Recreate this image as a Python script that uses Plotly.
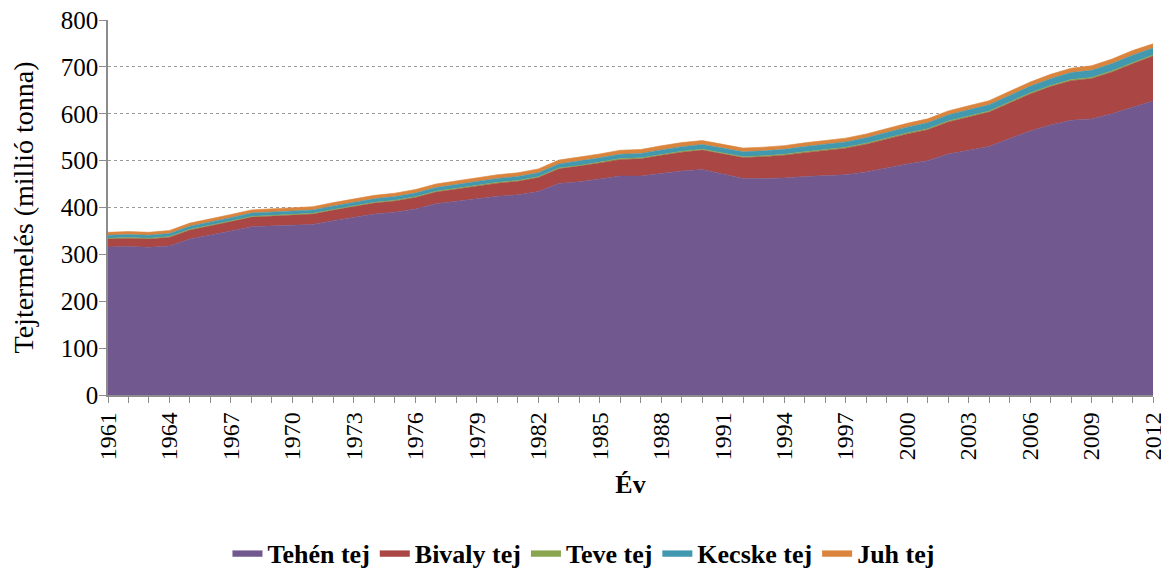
import plotly.graph_objects as go

years = list(range(1961, 2013))

teheN = [316, 317, 315, 318, 333, 341, 350, 359, 361, 362, 364, 372, 379, 386, 390, 397,
         408, 413, 419, 424, 427, 434, 451, 455, 461, 467, 467, 473, 478, 481, 471, 462,
         462, 463, 466, 468, 470, 476, 485, 493, 500, 514, 522, 530, 547, 563, 576, 586,
         589, 600, 614, 627]
bivaly = [17, 17.5, 18, 18.5, 19, 19.5, 20, 20.5, 21, 21.5, 22, 22.5, 23, 23.5, 24, 24.5,
          25, 26, 27, 28, 29, 30, 31.5, 33, 34, 35.5, 37, 38.5, 40, 41.5, 43, 44.5,
          46.5, 48.5, 51, 54, 56.5, 59, 61.5, 64, 66, 68.5, 71, 73.5, 76, 79, 82, 84.5,
          86, 89, 92.5, 96]
teve = [1.3, 1.3, 1.3, 1.4, 1.4, 1.4, 1.4, 1.5, 1.5, 1.5, 1.5, 1.5, 1.6, 1.6, 1.6, 1.6,
        1.7, 1.7, 1.7, 1.7, 1.8, 1.8, 1.8, 1.8, 1.9, 1.9, 1.9, 1.9, 2.0, 2.0, 2.0, 2.0,
        2.0, 2.0, 2.1, 2.1, 2.1, 2.1, 2.2, 2.2, 2.2, 2.2, 2.3, 2.3, 2.3, 2.4, 2.4, 2.4,
        2.5, 2.5, 2.5, 2.6]
kecske = [6.5, 6.6, 6.6, 6.7, 6.8, 6.9, 7.0, 7.1, 7.1, 7.2, 7.3, 7.3, 7.4, 7.5, 7.6, 7.7,
          7.8, 7.9, 8.0, 8.2, 8.3, 8.4, 8.6, 8.8, 9.0, 9.2, 9.3, 9.5, 9.7, 9.9, 10.0, 10.2,
          10.4, 10.6, 10.9, 11.1, 11.4, 11.6, 11.9, 12.2, 12.5, 12.8, 13.1, 13.4, 13.7, 14.1,
          14.5, 14.9, 15.2, 15.6, 16.0, 14.5]
juh = [6.2, 6.3, 6.2, 6.3, 6.5, 6.6, 6.7, 6.8, 6.9, 7.0, 7.0, 7.1, 7.2, 7.3, 7.4, 7.5,
       7.6, 7.7, 7.8, 7.9, 8.0, 8.1, 8.2, 8.3, 8.4, 8.5, 8.6, 8.7, 8.8, 8.5, 8.2, 8.0,
       7.9, 7.9, 7.9, 8.0, 8.0, 8.1, 8.2, 8.3, 8.4, 8.5, 8.6, 8.7, 8.8, 9.0, 9.2, 9.4,
       9.5, 9.6, 9.8, 9.0]

series = [
    ("Tehén tej", teheN, "#71588F"),
    ("Bivaly tej", bivaly, "#AA4643"),
    ("Teve tej", teve, "#89A54E"),
    ("Kecske tej", kecske, "#4198AF"),
    ("Juh tej", juh, "#DB843D"),
]

tick_years = list(range(1961, 2013, 3))
y_ticks = [0, 100, 200, 300, 400, 500, 600, 700, 800]

fig = go.Figure()
for name, vals, col in series:
    fig.add_trace(go.Scatter(
        x=years, y=vals, name=name, mode="lines", stackgroup="one",
        line=dict(width=0.6, color=col), fillcolor=col,
    ))

font_family = "Liberation Serif"
axis_col = "#8c8c8c"
# page body has an 8px default margin, so the figure is offset by 8px
fig.update_layout(
    width=1161, height=563,
    margin=dict(l=100, r=16, t=12, b=176, autoexpand=False),
    paper_bgcolor="white", plot_bgcolor="white",
    font=dict(family=font_family, size=24, color="black"),
    showlegend=True,
    legend=dict(orientation="h", x=0.455, xanchor="center", y=-0.421, yanchor="middle",
                font=dict(size=26, family=font_family, weight="bold"),
                itemwidth=30, traceorder="normal"),
    xaxis=dict(
        range=[1961, 2012], tickmode="array", tickvals=tick_years,
        ticktext=[str(y) for y in tick_years], tickangle=-90,
        showgrid=False, showline=True, linecolor=axis_col, linewidth=1.5,
        ticks="outside", ticklen=6, tickcolor=axis_col,
        minor=dict(dtick=1, ticks="outside", ticklen=6, tickcolor=axis_col, showgrid=False),
        tickfont=dict(size=24, family=font_family),
        ticklabelstandoff=0, ticklabeloverflow="allow",
        title=dict(text="<b>Év</b>", font=dict(size=26, family=font_family), standoff=15),
        zeroline=False, automargin=False,
    ),
    yaxis=dict(
        range=[0, 800], tickmode="array", tickvals=y_ticks,
        showgrid=True, gridcolor="#9a9a9a", griddash="dot", gridwidth=1,
        showline=True, linecolor=axis_col, linewidth=1.5,
        ticks="outside", ticklen=7, tickcolor=axis_col,
        tickfont=dict(size=25, family=font_family),
        ticklabelstandoff=-4, ticklabeloverflow="allow",
        title=dict(text="Tejtermelés (millió tonna)", font=dict(size=28, family=font_family), standoff=22),
        zeroline=False, automargin=False,
    ),
)

fig.write_html("out.html")
